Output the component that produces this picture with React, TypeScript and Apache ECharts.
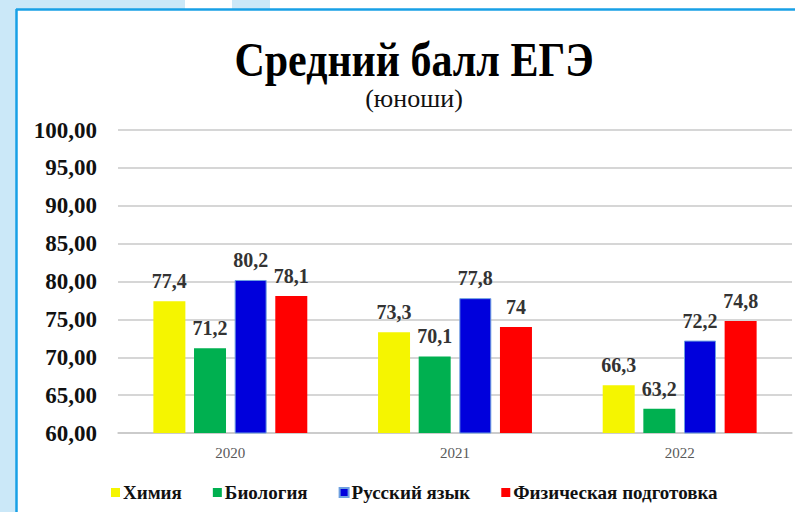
import React, { useEffect, useRef } from "react";
import * as echarts from "echarts";

const years = ["2020", "2021", "2022"];
const chemistry = [77.4, 73.3, 66.3];
const biology = [71.2, 70.1, 63.2];
const russian = [80.2, 77.8, 72.2];
const physical = [78.1, 74, 74.8];
const seriesNames = ["Химия", "Биология", "Русский язык", "Физическая подготовка"];
const seriesColors = ["#f5f500", "#00b050", "#0000dc", "#ff0000"];
const titleText = "Средний балл ЕГЭ";
const subtitleText = "(юноши)";

const serif = "Liberation Serif";

export default function App() {
  const ref = useRef<HTMLDivElement>(null);
  useEffect(() => {
    if (!ref.current) return;
    const chart = echarts.init(ref.current, undefined, { renderer: "svg" });
    const data = [chemistry, biology, russian, physical];
    const fmt = (v: number) => String(v).replace(".", ",");
    chart.setOption({
      animation: false,
      backgroundColor: "#ffffff",
      textStyle: { fontFamily: serif },
      graphic: [
        { type: "rect", shape: { x: 0, y: 0, width: 16, height: 512 }, style: { fill: "#cbe8f8" }, silent: true },
        { type: "rect", shape: { x: 0, y: 0, width: 185, height: 9 }, style: { fill: "#cbe8f8" }, silent: true },
        { type: "rect", shape: { x: 232, y: 0, width: 38, height: 9 }, style: { fill: "#cbe8f8" }, silent: true },
        { type: "line", shape: { x1: 16.5, y1: 9, x2: 16.5, y2: 512 }, style: { stroke: "#18a0e6", lineWidth: 2.5 }, silent: true },
        { type: "line", shape: { x1: 16, y1: 9.5, x2: 795, y2: 9.5 }, style: { stroke: "#18a0e6", lineWidth: 2.5 }, silent: true },
        {
          type: "text",
          x: 414,
          y: 59,
          scaleY: 1.16,
          silent: true,
          style: {
            text: titleText,
            x: 0,
            y: 0,
            align: "center",
            verticalAlign: "middle",
            fontFamily: serif,
            fontSize: 42,
            fontWeight: "bold",
            fill: "#000",
          },
        },
        {
          type: "text",
          x: 414,
          y: 98,
          silent: true,
          style: {
            text: subtitleText,
            x: 0,
            y: 0,
            align: "center",
            verticalAlign: "middle",
            fontFamily: serif,
            fontSize: 26,
            fontWeight: "normal",
            fill: "#111",
          },
        },
      ],
      legend: {
        top: 478,
        left: 106,
        itemWidth: 9,
        itemHeight: 9,
        itemGap: 31,
        icon: "rect",
        textStyle: { fontFamily: serif, fontSize: 19, fontWeight: "bold", color: "#111", padding: [0, 0, 0, -2] },
        data: seriesNames,
      },
      grid: { left: 118, right: 3, top: 130, bottom: 79 },
      xAxis: {
        type: "category",
        data: years,
        axisLine: { show: true, lineStyle: { color: "#c8c8c8", width: 1.5 } },
        axisTick: { show: false },
        axisLabel: { fontFamily: serif, fontSize: 15, color: "#595959", margin: 12 },
      },
      yAxis: {
        type: "value",
        min: 60,
        max: 100,
        interval: 5,
        axisLine: { show: false },
        axisTick: { show: false },
        splitLine: { lineStyle: { color: "#c8c8c8", width: 1.5 } },
        axisLabel: {
          fontFamily: serif,
          fontSize: 23,
          fontWeight: "bold",
          color: "#111",
          margin: 21,
          formatter: (v: number) => v.toFixed(2).replace(".", ","),
        },
      },
      series: seriesNames.map((name, i) => ({
        name,
        type: "bar",
        data: data[i],
        barWidth: 32,
        barGap: "27%",
        itemStyle: {
          color: seriesColors[i],
          borderColor: i === 2 ? "#6fa0e0" : undefined,
          borderWidth: i === 2 ? 1 : 0,
        },
        label: {
          show: true,
          position: "top",
          distance: 10,
          fontFamily: serif,
          fontSize: 20,
          fontWeight: "bold",
          color: "#333",
          formatter: (p: any) => fmt(p.value),
        },
      })),
    });
    return () => chart.dispose();
  }, []);
  return (
    <div
      ref={ref}
      style={{ position: "fixed", left: 0, top: 0, width: 795, height: 512 }}
    />
  );
}
